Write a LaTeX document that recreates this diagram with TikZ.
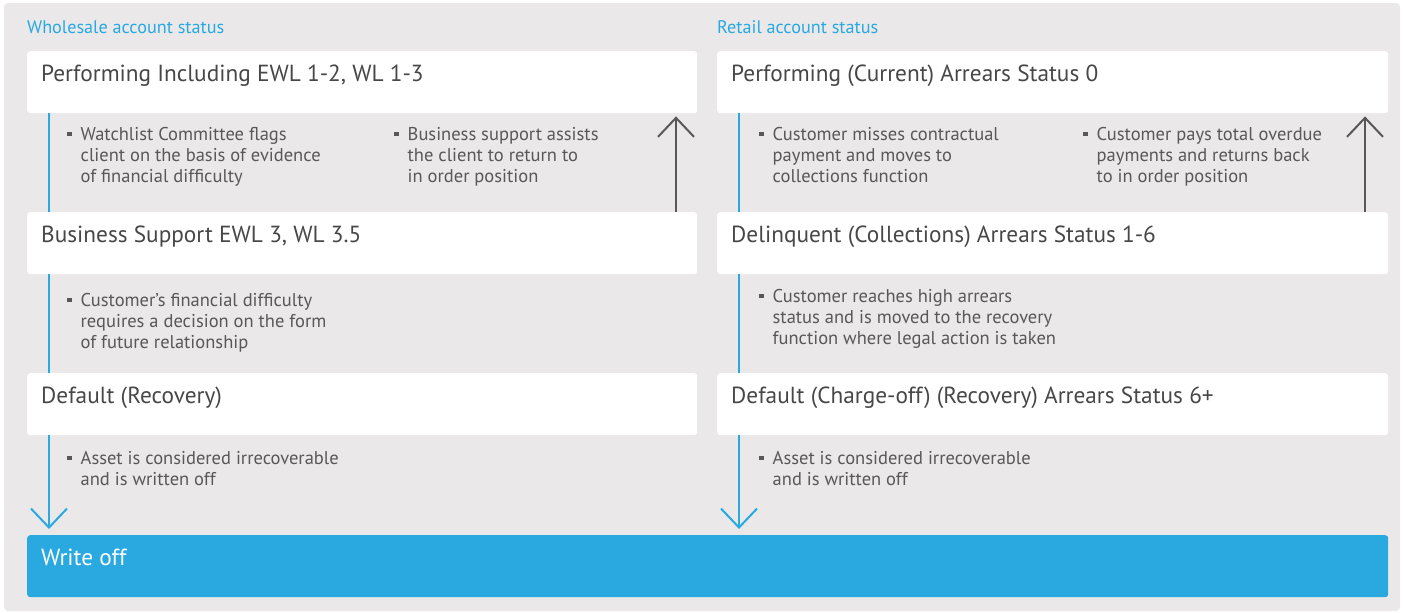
\documentclass[tikz,border=0pt]{standalone}
\usepackage{fontspec}
\setmainfont{PT Sans}
\usetikzlibrary{arrows.meta}
\definecolor{bg}{HTML}{EAE8E9}
\definecolor{cblue}{HTML}{29A9E0}
\definecolor{tdark}{HTML}{474747}
\definecolor{tgrey}{HTML}{585858}
\newcommand{\sqb}{\raisebox{0.2em}{\rule{4.5pt}{4.5pt}}}
\newcommand{\blist}[1]{\begin{tabular}[t]{@{}l@{\hspace{9pt}}l@{}}#1\end{tabular}}
\tikzset{
  box/.style={fill=white, rounded corners=3pt, minimum width=670pt, minimum height=62pt, anchor=north west, inner sep=0pt},
  title/.style={anchor=base west, inner sep=0pt, text=tdark, font=\fontsize{23.3}{26}\selectfont},
  head/.style={anchor=base west, inner sep=0pt, text=cblue, font=\fontsize{18.2}{20}\selectfont},
  btext/.style={anchor=base west, inner sep=0pt, text=tgrey, font=\fontsize{18.5}{21}\selectfont},
  downline/.style={draw=cblue, line width=2pt},
  downarrow/.style={draw=cblue, line width=2pt, -{Straight Barb[length=19pt,width=36pt,line width=2pt]}},
  uparrow/.style={draw=tgrey, line width=2pt, -{Straight Barb[length=19pt,width=36pt,line width=2pt]}}
}
\begin{document}
\begin{tikzpicture}[x=1pt,y=-1pt]
\useasboundingbox (0,0) rectangle (1403,613);
\fill[white] (0,0) rectangle (1403,613);
\fill[bg, rounded corners=4pt] (4,3) rectangle (1400,611);

% headers
\node[head] (hw) at (27,34) {Wholesale account status};
\node[head] (hr) at (717,34) {Retail account status};

% left boxes
\node[box] (w1) at (27,51) {};
\node[box] (w2) at (27,212) {};
\node[box] (w3) at (27,373) {};
% right boxes
\node[box, minimum width=671pt] (r1) at (717,51) {};
\node[box, minimum width=671pt] (r2) at (717,212) {};
\node[box, minimum width=671pt] (r3) at (717,373) {};
% write off
\node[box, fill=cblue, minimum width=1361pt, minimum height=62pt] (wo) at (27,535) {};

% titles
\node[title] (w1t) at (41,81) {Performing Including EWL 1-2, WL 1-3};
\node[title] (w2t) at (41,242) {Business Support EWL 3, WL 3.5};
\node[title] (w3t) at (41,403) {Default (Recovery)};
\node[title] (r1t) at (731,81) {Performing (Current) Arrears Status 0};
\node[title] (r2t) at (731,242) {Delinquent (Collections) Arrears Status 1-6};
\node[title] (r3t) at (731,403) {Default (Charge-off) (Recovery) Arrears Status 6+};
\node[title, text=white] (wot) at (41,565) {Write off};

% left connectors
\draw[downline] ([xshift=22pt]w1.south west) -- ([xshift=22pt]w2.north west);
\draw[downline] ([xshift=22pt]w2.south west) -- ([xshift=22pt]w3.north west);
\draw[downarrow, shorten >=6pt] ([xshift=22pt]w3.south west) -- ([xshift=22pt]wo.north west);
\draw[uparrow, shorten >=3pt] ([xshift=649pt]w2.north west) -- ([xshift=649pt]w1.south west);
% right connectors
\draw[downline] ([xshift=22pt]r1.south west) -- ([xshift=22pt]r2.north west);
\draw[downline] ([xshift=22pt]r2.south west) -- ([xshift=22pt]r3.north west);
\draw[downarrow, shorten >=6pt] ([xshift=22pt]r3.south west) -- ([xshift=712pt]wo.north west);
\draw[uparrow, shorten >=3pt] ([xshift=648pt]r2.north west) -- ([xshift=648pt]r1.south west);

% bullet texts left
\node[btext] (b1) at (67,140) {\blist{\sqb & Watchlist Committee flags\\ & client on the basis of evidence\\ & of financial difficulty}};
\node[btext] (b2) at (394,140) {\blist{\sqb & Business support assists\\ & the client to return to\\ & in order position}};
\node[btext] (b3) at (67,306) {\blist{\sqb & Customer's financial difficulty\\ & requires a decision on the form\\ & of future relationship}};
\node[btext] (b4) at (67,464) {\blist{\sqb & Asset is considered irrecoverable\\ & and is written off}};
% bullet texts right
\node[btext] (c1) at (759,140) {\blist{\sqb & Customer misses contractual\\ & payment and moves to\\ & collections function}};
\node[btext] (c2) at (1083,140) {\blist{\sqb & Customer pays total overdue\\ & payments and returns back\\ & to in order position}};
\node[btext] (c3) at (759,302) {\blist{\sqb & Customer reaches high arrears\\ & status and is moved to the recovery\\ & function where legal action is taken}};
\node[btext] (c4) at (759,464) {\blist{\sqb & Asset is considered irrecoverable\\ & and is written off}};
\end{tikzpicture}
\end{document}
